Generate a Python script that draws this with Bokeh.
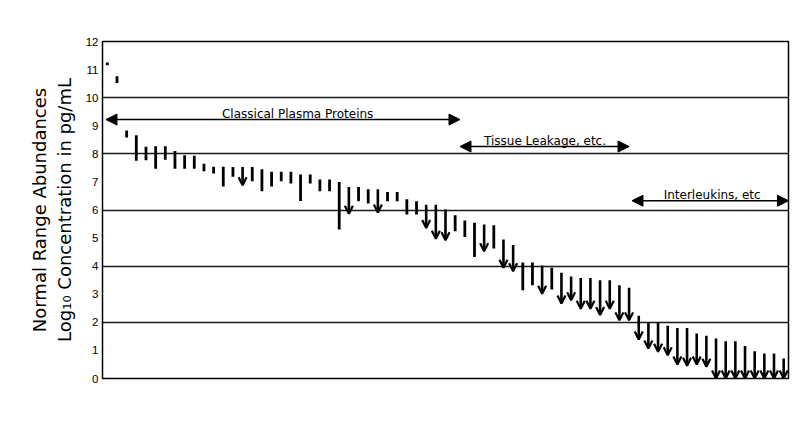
from bokeh.plotting import figure
from bokeh.models import ColumnDataSource, Range1d, FixedTicker, Arrow, OpenHead, NormalHead
from bokeh.embed import file_html
from bokeh.resources import INLINE
from bokeh.core.properties import value

# ---- data ----
proteins = list(range(1, 72))
upper = [11.25, 10.76, 8.83, 8.66, 8.25, 8.27, 8.27, 8.10, 7.95, 7.93,
         7.65, 7.54, 7.54, 7.53, 7.53, 7.53, 7.45, 7.36, 7.36, 7.36,
         7.26, 7.26, 7.09, 7.09, 7.00, 6.82, 6.82, 6.74, 6.74, 6.64,
         6.64, 6.38, 6.31, 6.19, 6.19, 6.02, 5.81, 5.63, 5.55, 5.48,
         5.46, 4.95, 4.75, 4.13, 4.13, 4.02, 3.94, 3.77, 3.63, 3.58,
         3.58, 3.50, 3.50, 3.32, 3.23, 2.23, 1.99, 1.99, 1.88, 1.80,
         1.80, 1.60, 1.52, 1.42, 1.33, 1.33, 1.16, 0.97, 0.89, 0.89, 0.71]
lower = [11.15, 10.52, 8.58, 7.75, 7.77, 7.47, 7.79, 7.47, 7.47, 7.47,
         7.38, 7.30, 6.84, 7.18, 6.88, 7.02, 6.67, 6.84, 7.02, 6.94,
         6.32, 6.94, 6.67, 6.67, 5.31, 5.87, 6.31, 6.23, 5.91, 6.31,
         6.31, 5.84, 5.84, 5.36, 4.98, 4.92, 5.24, 5.04, 4.33, 4.53,
         4.63, 3.94, 3.82, 3.14, 3.32, 3.02, 3.17, 2.67, 2.79, 2.48,
         2.48, 2.26, 2.48, 2.07, 2.07, 1.39, 1.07, 0.95, 0.83, 0.50,
         0.45, 0.50, 0.42, 0.00, 0.00, 0.00, 0.00, 0.00, 0.00, 0.00, 0.00]
below_limit = [0, 0, 0, 0, 0, 0, 0, 0, 0, 0,
               0, 0, 0, 0, 1, 0, 0, 0, 0, 0,
               0, 0, 0, 0, 0, 1, 0, 0, 1, 0,
               0, 0, 0, 1, 1, 1, 0, 0, 0, 1,
               0, 1, 1, 0, 0, 1, 0, 1, 1, 1,
               1, 1, 1, 1, 1, 1, 1, 1, 1, 1,
               1, 1, 1, 1, 1, 1, 1, 1, 1, 1, 1]

group_names = ["Classical Plasma Proteins", "Tissue Leakage, etc.", "Interleukins, etc"]
group_start = [0.86, 37.5, 55.3]
group_end = [37.5, 55.0, 71.5]
group_level = [9.22, 8.26, 6.33]
group_label_x = [20.7, 46.3, 63.6]

y_ticks = list(range(0, 13))
grid_levels = [2, 4, 6, 8, 10]

# ---- figure ----
p = figure(width=794, height=410, output_backend="svg", toolbar_location=None,
           x_range=Range1d(0.5, 71.5), y_range=Range1d(0, 12),
           x_axis_location=None,
           min_border_left=102, min_border_right=6, min_border_top=41, min_border_bottom=32)

p.outline_line_color = "black"
p.outline_line_width = 1.5
p.background_fill_color = "white"
p.border_fill_color = "white"

p.xgrid.visible = False
p.ygrid.ticker = FixedTicker(ticks=grid_levels)
p.ygrid.grid_line_color = "#1a1a1a"
p.ygrid.grid_line_width = 1.6

ax = p.yaxis[0]
ax.ticker = FixedTicker(ticks=y_ticks)
ax.axis_line_color = None
ax.major_tick_line_color = None
ax.minor_tick_line_color = None
ax.major_tick_in = 0
ax.major_tick_out = 0
ax.major_label_standoff = 4
ax.major_label_text_font = "Liberation Sans"
ax.major_label_text_font_size = "11.5px"
ax.major_label_text_color = "black"
ax.axis_label = "Normal Range Abundances\nLog\u2081\u2080 Concentration in pg/mL"
ax.axis_label_text_font = "DejaVu Sans"
ax.axis_label_text_font_size = "18px"
ax.axis_label_text_font_style = "normal"
ax.axis_label_text_color = "black"
ax.axis_label_standoff = 8

# plain ranges and ranges with an open lower bound (arrows)
plain = [i for i, f in enumerate(below_limit) if f == 0]
arrowed = [i for i, f in enumerate(below_limit) if f == 1]
plain_src = ColumnDataSource(dict(x=[proteins[i] for i in plain],
                                  hi=[upper[i] for i in plain],
                                  lo=[lower[i] for i in plain]))
arrow_src = ColumnDataSource(dict(x=[proteins[i] for i in arrowed],
                                  hi=[upper[i] for i in arrowed],
                                  lo=[lower[i] for i in arrowed]))

p.segment(x0="x", y0="hi", x1="x", y1="lo", source=plain_src,
          line_color="black", line_width=2.8, line_cap="butt")
p.add_layout(Arrow(x_start="x", y_start="hi", x_end="x", y_end="lo", source=arrow_src,
                   line_color="black", line_width=2.6,
                   end=OpenHead(size=8, line_width=2.2, line_color="black")))

# group arrows
grp_src = ColumnDataSource(dict(x0=group_start, x1=group_end, y=group_level,
                                lx=group_label_x, name=group_names))
p.add_layout(Arrow(x_start="x0", y_start="y", x_end="x1", y_end="y", source=grp_src,
                   line_color="black", line_width=1.5,
                   start=NormalHead(size=11, fill_color="black", line_color="black", line_width=1),
                   end=NormalHead(size=11, fill_color="black", line_color="black", line_width=1)))
p.text(x="lx", y="y", text="name", source=grp_src, text_align="center",
       text_baseline="alphabetic", y_offset=-6,
       text_font=value("DejaVu Sans"), text_font_size=value("12px"), text_color="black")

open("out.html", "w").write(file_html(p, INLINE))
